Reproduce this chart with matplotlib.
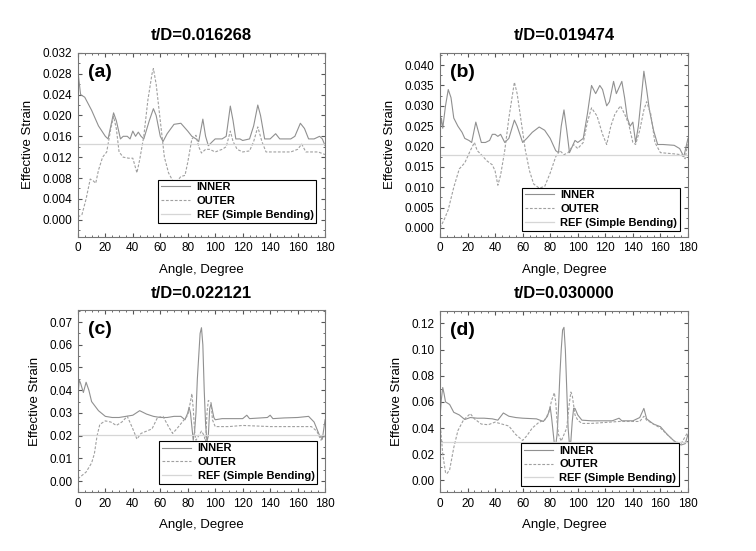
import numpy as np
import matplotlib
matplotlib.use('Agg')
import matplotlib.pyplot as plt
from matplotlib.ticker import MultipleLocator, AutoMinorLocator

plt.rcParams['font.family'] = ['Liberation Sans', 'DejaVu Sans']
plt.rcParams['font.size'] = 8.5

# ---- (a) t/D=0.016268
a_in_x = [0, 2, 5, 10, 15, 20, 22, 26, 28, 31, 33, 36, 38, 40, 42, 44, 46, 48, 52, 55, 57, 60, 62, 65, 70,
          75, 80, 83, 86, 88, 91, 93, 95, 98, 100, 105, 108, 111, 113, 115, 118, 120, 125, 128, 131, 133,
          136, 140, 144, 147, 150, 155, 158, 162, 165, 168, 172, 176, 178, 180]
a_in_y = [0.0285, 0.024, 0.0235, 0.021, 0.018, 0.016, 0.0155, 0.0205, 0.019, 0.0155, 0.016, 0.016, 0.0155,
          0.017, 0.016, 0.0168, 0.016, 0.0155, 0.019, 0.0213, 0.020, 0.016, 0.015, 0.0165, 0.0183, 0.0185,
          0.017, 0.016, 0.0155, 0.015, 0.0193, 0.016, 0.0142, 0.015, 0.0155, 0.0155, 0.016, 0.0218, 0.019,
          0.0155, 0.0155, 0.0152, 0.0155, 0.018, 0.022, 0.020, 0.0155, 0.0155, 0.0165, 0.0155, 0.0155,
          0.0155, 0.016, 0.0185, 0.0175, 0.0155, 0.0155, 0.016, 0.0155, 0.0142]
a_out_x = [0, 3, 6, 9, 11, 13, 15, 18, 21, 24, 26, 28, 30, 33, 37, 40, 43, 45, 48, 51, 54, 55, 57, 60, 63,
           66, 69, 72, 75, 78, 80, 83, 86, 88, 90, 93, 96, 100, 105, 108, 111, 113, 116, 120, 125, 128, 131,
           134, 137, 145, 155, 160, 163, 166, 175, 180]
a_out_y = [0.0005, 0.001, 0.004, 0.0078, 0.0075, 0.007, 0.0095, 0.012, 0.013, 0.0175, 0.0198, 0.0175, 0.013,
           0.012, 0.0118, 0.0118, 0.009, 0.0115, 0.016, 0.023, 0.028, 0.029, 0.026, 0.019, 0.012, 0.009,
           0.0075, 0.0073, 0.0083, 0.0085, 0.011, 0.0155, 0.0162, 0.014, 0.0128, 0.0135, 0.0135, 0.013,
           0.0135, 0.014, 0.017, 0.015, 0.0135, 0.013, 0.0132, 0.015, 0.0178, 0.015, 0.013, 0.013, 0.013,
           0.0135, 0.0145, 0.013, 0.013, 0.0125]
a_ref = 0.0146

# ---- (b) t/D=0.019474
b_in_x = [0, 1, 2, 4, 6, 8, 10, 13, 16, 18, 21, 23, 26, 28, 30, 33, 36, 38, 40, 42, 44, 47, 50, 54, 56, 60,
          63, 67, 72, 76, 80, 84, 86, 88, 90, 92, 94, 96, 98, 100, 104, 107, 110, 113, 116, 118, 121, 123,
          126, 128, 130, 132, 134, 136, 138, 140, 142, 144, 147, 148, 150, 152, 155, 158, 162, 170, 174,
          177, 180]
b_in_y = [0.0235, 0.027, 0.0245, 0.030, 0.034, 0.032, 0.027, 0.025, 0.0235, 0.022, 0.0215, 0.021, 0.026,
          0.0235, 0.021, 0.021, 0.0215, 0.023, 0.023, 0.0225, 0.023, 0.021, 0.022, 0.0265, 0.025, 0.021,
          0.022, 0.0235, 0.0248, 0.024, 0.022, 0.019, 0.0185, 0.025, 0.029, 0.024, 0.0185, 0.020, 0.0215,
          0.021, 0.022, 0.028, 0.035, 0.033, 0.035, 0.034, 0.030, 0.031, 0.036, 0.033, 0.0345, 0.036, 0.032,
          0.027, 0.025, 0.026, 0.021, 0.025, 0.035, 0.0385, 0.034, 0.029, 0.024, 0.0205, 0.0205, 0.0203,
          0.0195, 0.0175, 0.022]
b_out_x = [0, 3, 6, 10, 14, 18, 22, 25, 27, 30, 34, 38, 40, 42, 44, 47, 50, 54, 56, 59, 62, 65, 68, 72, 76,
           80, 84, 87, 90, 93, 97, 100, 104, 107, 110, 114, 118, 121, 124, 127, 131, 134, 137, 140, 142, 145,
           148, 150, 153, 156, 160, 170, 175, 178, 180]
b_out_y = [0.0, 0.002, 0.0045, 0.010, 0.0145, 0.016, 0.019, 0.021, 0.019, 0.018, 0.0165, 0.0155, 0.014,
           0.0105, 0.013, 0.019, 0.027, 0.0358, 0.033, 0.026, 0.019, 0.014, 0.0108, 0.0098, 0.0102, 0.0135,
           0.0175, 0.019, 0.018, 0.0185, 0.0205, 0.0195, 0.021, 0.026, 0.0295, 0.0275, 0.023, 0.0205, 0.025,
           0.028, 0.030, 0.028, 0.0255, 0.021, 0.0205, 0.024, 0.029, 0.031, 0.028, 0.021, 0.0185, 0.0182,
           0.018, 0.017, 0.0215]
b_ref = 0.018

# ---- (c) t/D=0.022121
c_in_x = [0, 1, 2, 4, 6, 8, 10, 15, 20, 25, 30, 35, 40, 45, 50, 55, 60, 65, 70, 75, 78, 80, 81, 82, 84, 85,
          86, 87, 88, 89, 90, 91, 92, 93, 94, 95, 96, 97, 98, 99, 100, 105, 120, 123, 125, 138, 140, 142,
          150, 160, 168, 172, 176, 178, 180]
c_in_y = [0.037, 0.0445, 0.043, 0.039, 0.0435, 0.040, 0.035, 0.031, 0.0285, 0.028, 0.028, 0.0285, 0.029,
          0.031, 0.0295, 0.0285, 0.028, 0.028, 0.0285, 0.0285, 0.027, 0.030, 0.0325, 0.030, 0.018, 0.022,
          0.030, 0.045, 0.055, 0.065, 0.0675, 0.060, 0.040, 0.025, 0.0175, 0.020, 0.032, 0.034, 0.031, 0.028,
          0.027, 0.0275, 0.0275, 0.029, 0.0275, 0.028, 0.029, 0.0275, 0.0278, 0.028, 0.0285, 0.026, 0.020,
          0.0185, 0.027]
c_out_x = [0, 3, 6, 10, 12, 14, 16, 20, 24, 28, 32, 36, 40, 43, 46, 50, 54, 58, 62, 66, 69, 72, 76, 80, 82,
           83, 84, 85, 86, 88, 90, 92, 93, 94, 95, 97, 98, 100, 110, 120, 140, 170, 174, 177, 180]
c_out_y = [0.001, 0.0025, 0.004, 0.008, 0.012, 0.020, 0.025, 0.0265, 0.026, 0.0245, 0.026, 0.0285, 0.023,
           0.0185, 0.021, 0.022, 0.023, 0.028, 0.0285, 0.024, 0.021, 0.023, 0.026, 0.029, 0.035, 0.0385,
           0.032, 0.022, 0.018, 0.020, 0.022, 0.020, 0.0165, 0.030, 0.0355, 0.0345, 0.027, 0.024, 0.024,
           0.0245, 0.024, 0.024, 0.022, 0.018, 0.020]
c_ref = 0.0205

# ---- (d) t/D=0.030000
d_in_x = [0, 1, 2, 3, 4, 7, 10, 14, 18, 22, 27, 32, 38, 42, 46, 50, 55, 60, 70, 75, 78, 80, 81, 82, 83, 84,
          85, 86, 87, 88, 89, 90, 91, 92, 93, 94, 95, 96, 97, 98, 100, 103, 110, 125, 130, 132, 140, 145,
          148, 150, 155, 160, 165, 170, 175, 178, 180]
d_in_y = [0.048, 0.062, 0.071, 0.066, 0.060, 0.058, 0.052, 0.050, 0.0465, 0.048, 0.0475, 0.0475, 0.047,
          0.046, 0.0515, 0.049, 0.048, 0.0475, 0.047, 0.045, 0.049, 0.056, 0.048, 0.038, 0.028, 0.027, 0.035,
          0.055, 0.080, 0.100, 0.115, 0.117, 0.100, 0.070, 0.040, 0.027, 0.030, 0.045, 0.055, 0.055, 0.050,
          0.046, 0.0455, 0.0455, 0.0475, 0.0455, 0.0455, 0.048, 0.055, 0.047, 0.043, 0.041, 0.035, 0.030,
          0.027, 0.028, 0.035]
d_out_x = [0, 2, 4, 5, 7, 10, 13, 17, 20, 22, 25, 30, 35, 40, 45, 50, 55, 60, 63, 67, 72, 76, 79, 81, 83,
           84, 85, 86, 88, 90, 92, 94, 95, 96, 98, 100, 103, 110, 130, 145, 148, 150, 155, 160, 165, 170,
           175, 180]
d_out_y = [0.045, 0.020, 0.006, 0.005, 0.008, 0.025, 0.038, 0.046, 0.049, 0.051, 0.047, 0.043, 0.0425,
           0.0445, 0.043, 0.0415, 0.035, 0.0305, 0.034, 0.040, 0.0445, 0.046, 0.052, 0.061, 0.067, 0.060,
           0.045, 0.035, 0.030, 0.035, 0.040, 0.060, 0.0675, 0.065, 0.050, 0.046, 0.0435, 0.0435, 0.045,
           0.045, 0.049, 0.046, 0.043, 0.040, 0.035, 0.030, 0.028, 0.037]
d_ref = 0.029

panels = [
    ('t/D=0.016268', '(a)', a_in_x, a_in_y, a_out_x, a_out_y, a_ref),
    ('t/D=0.019474', '(b)', b_in_x, b_in_y, b_out_x, b_out_y, b_ref),
    ('t/D=0.022121', '(c)', c_in_x, c_in_y, c_out_x, c_out_y, c_ref),
    ('t/D=0.030000', '(d)', d_in_x, d_in_y, d_out_x, d_out_y, d_ref),
]

# layout / style per panel
rects = [[0.103, 0.570, 0.327, 0.334], [0.582, 0.570, 0.328, 0.334],
         [0.103, 0.107, 0.327, 0.330], [0.582, 0.107, 0.328, 0.329]]
ylims = [(-0.0033, 0.032), (-0.0022, 0.043), (-0.0048, 0.0752), (-0.009, 0.1297)]
ysteps = [0.004, 0.005, 0.01, 0.02]
yfmts = ['%.3f', '%.3f', '%.2f', '%.2f']
leg_anchor = [(0.964, 0.076), (0.968, 0.033), (0.968, 0.044), (0.964, 0.033)]

fig = plt.figure(figsize=(7.56, 5.51), dpi=100)

for i, (title, tag, xi, yi, xo, yo, ref) in enumerate(panels):
    ax = fig.add_axes(rects[i])
    ax.plot(xi, yi, color='#909090', lw=0.8, label='INNER')
    ax.plot(xo, yo, color='#a0a0a0', lw=0.8, ls=(0, (2.5, 1.5)), label='OUTER')
    ax.axhline(ref, color='#d6d6d6', lw=0.9, label='REF (Simple Bending)')
    ax.set_xlim(0, 180)
    ax.set_ylim(*ylims[i])
    ax.xaxis.set_major_locator(MultipleLocator(20))
    ax.xaxis.set_minor_locator(MultipleLocator(5))
    ax.yaxis.set_major_locator(MultipleLocator(ysteps[i]))
    ax.yaxis.set_minor_locator(AutoMinorLocator(2))
    ax.yaxis.set_major_formatter(plt.FormatStrFormatter(yfmts[i]))
    ax.tick_params(which='both', direction='in', top=True, right=True, color='#555555')
    ax.tick_params(which='major', length=3, labelsize=8.5, pad=4)
    ax.tick_params(which='minor', length=1.5)
    for s in ax.spines.values():
        s.set_color('#777777')
        s.set_linewidth(0.8)
    ax.set_title(title, fontsize=12, fontweight='bold', pad=9)
    ax.set_xlabel('Angle, Degree', fontsize=9.5, labelpad=7)
    ax.set_ylabel('Effective Strain', fontsize=9.5, labelpad=6)
    ax.text(0.04, 0.94, tag, transform=ax.transAxes, fontsize=14, fontweight='bold',
            va='top', ha='left')
    leg = ax.legend(loc='lower right', bbox_to_anchor=leg_anchor[i],
                    prop={'weight': 'bold', 'size': 8}, fancybox=False, framealpha=1,
                    edgecolor='black', borderpad=0.25, handlelength=2.6, handletextpad=0.6,
                    labelspacing=0.35, borderaxespad=0)
    leg.get_frame().set_linewidth(0.8)

fig.savefig('out.png', dpi=100)
